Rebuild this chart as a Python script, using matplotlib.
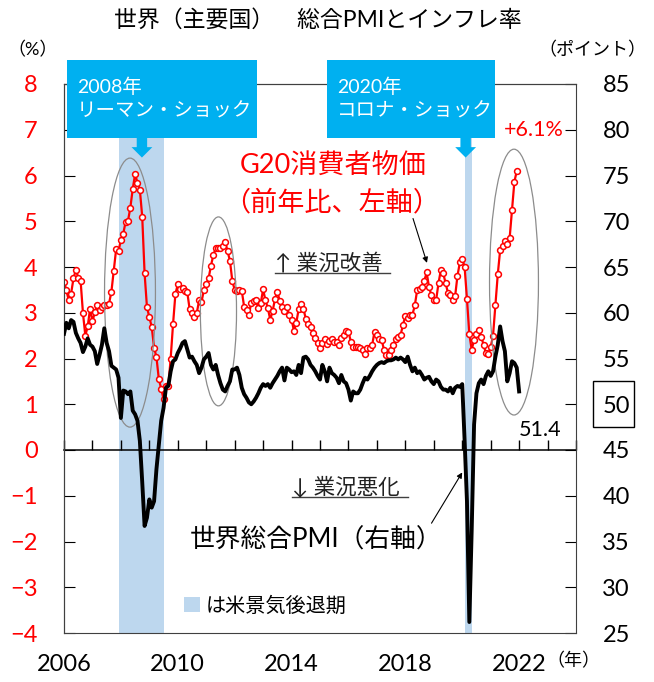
import numpy as np
import matplotlib.pyplot as plt
from matplotlib.patches import Rectangle, Ellipse
from matplotlib.transforms import blended_transform_factory

plt.rcParams['font.family'] = ['Lato', 'Noto Sans CJK JP']

# G20 consumer prices, % y/y, monthly from Jan 2006 (left axis)
cpi = [
    3.68, 3.49, 3.27, 3.42, 3.75, 3.94, 3.77, 3.70, 2.99, 2.50, 2.70, 3.09,  # 2006
    2.81, 3.01, 3.18, 3.07, 3.12, 3.16, 3.16, 3.20, 3.46, 3.92, 4.39, 4.34,  # 2007
    4.60, 4.73, 4.99, 5.01, 5.30, 5.71, 6.03, 5.84, 5.69, 5.10, 3.86, 3.12,  # 2008
    2.90, 2.69, 2.24, 2.03, 1.55, 1.34, 1.11, 1.39, 1.39, 2.00, 2.75, 3.41,  # 2009
    3.62, 3.52, 3.55, 3.48, 3.45, 3.08, 2.99, 2.90, 2.99, 3.27, 3.23, 3.50,  # 2010
    3.62, 3.75, 4.03, 4.26, 4.41, 4.42, 4.41, 4.46, 4.55, 4.34, 4.14, 3.70,  # 2011
    3.50, 3.48, 3.50, 3.48, 3.13, 3.05, 2.96, 3.22, 3.26, 3.27, 3.10, 3.21,  # 2012
    3.51, 3.27, 3.10, 2.85, 3.03, 3.30, 3.46, 3.26, 3.12, 3.03, 3.12, 2.96,  # 2013
    2.85, 2.61, 2.78, 3.08, 3.20, 3.09, 2.87, 2.76, 2.69, 2.56, 2.44, 2.34,  # 2014
    2.23, 2.34, 2.43, 2.32, 2.39, 2.43, 2.37, 2.37, 2.30, 2.45, 2.52, 2.61,  # 2015
    2.59, 2.37, 2.26, 2.25, 2.25, 2.23, 2.19, 2.10, 2.23, 2.23, 2.29, 2.59,  # 2016
    2.52, 2.43, 2.41, 2.19, 2.08, 2.07, 2.18, 2.30, 2.43, 2.46, 2.51, 2.74,  # 2017
    2.92, 2.88, 2.94, 2.96, 3.16, 3.50, 3.52, 3.57, 3.70, 3.88, 3.56, 3.38,  # 2018
    3.28, 3.28, 3.65, 3.94, 3.86, 3.65, 3.43, 3.38, 3.27, 3.36, 3.81, 4.10,  # 2019
    4.18, 4.01, 3.30, 2.53, 2.19, 2.41, 2.53, 2.63, 2.48, 2.30, 2.11, 2.10,  # 2020
    2.25, 2.50, 3.17, 3.84, 4.37, 4.46, 4.57, 4.50, 4.63, 5.24, 5.86, 6.10,  # 2021
]

# global composite PMI, monthly from Jan 2006 (right axis)
pmi = [
    57.7, 58.9, 58.3, 59.2, 59.0, 57.8, 57.2, 56.7, 55.7, 56.3, 57.2, 56.5,  # 2006
    56.3, 55.8, 54.4, 55.4, 56.5, 58.3, 56.7, 55.8, 54.2, 54.0, 53.8, 52.9,  # 2007
    48.5, 51.5, 51.4, 51.1, 51.4, 49.3, 48.9, 48.2, 46.0, 41.5, 36.7, 37.6,  # 2008
    39.6, 38.7, 39.4, 42.9, 45.5, 48.2, 49.6, 51.8, 52.0, 53.6, 54.7, 54.9,  # 2009
    55.6, 56.1, 56.7, 56.9, 56.0, 55.1, 55.2, 54.7, 54.3, 53.4, 54.0, 54.9,  # 2010
    55.2, 55.6, 54.3, 53.8, 54.3, 53.2, 52.3, 51.6, 51.4, 52.0, 52.5, 53.8,  # 2011
    53.8, 54.0, 53.2, 51.8, 51.1, 50.7, 50.2, 50.0, 50.3, 50.7, 51.2, 51.8,  # 2012
    52.2, 52.0, 52.2, 51.8, 52.3, 52.7, 53.1, 53.6, 54.0, 52.6, 54.0, 53.8,  # 2013
    53.5, 53.6, 53.2, 54.3, 53.4, 55.1, 55.2, 54.9, 54.3, 54.0, 53.6, 53.1,  # 2014
    52.7, 54.3, 53.6, 52.5, 54.0, 53.4, 53.2, 52.9, 52.3, 53.2, 52.5, 52.3,  # 2015
    51.6, 50.4, 51.4, 51.2, 51.2, 51.6, 52.3, 52.9, 52.7, 53.1, 53.6, 54.0,  # 2016
    54.3, 54.5, 54.6, 54.5, 54.7, 54.8, 54.8, 54.9, 55.1, 54.9, 55.1, 54.9,  # 2017
    54.6, 55.2, 54.3, 53.6, 54.0, 53.4, 53.6, 53.2, 52.7, 52.9, 53.0, 52.5,  # 2018
    52.2, 52.7, 52.5, 51.9, 51.6, 51.6, 51.4, 51.8, 51.2, 51.8, 52.0, 51.9,  # 2019
    52.2, 46.1, 39.4, 26.2, 36.3, 47.8, 51.2, 52.3, 52.7, 52.2, 53.1, 53.6,  # 2020
    53.1, 53.6, 55.2, 56.5, 58.5, 56.9, 55.8, 52.5, 53.4, 54.7, 54.5, 54.0,  # 2021
    51.4,                                                                    # 2022
]

start_year = 2006
# US recessions (NBER), decimal years
rec_start = [2007.917, 2020.083]
rec_end = [2009.5, 2020.333]

year_labels = [2006, 2010, 2014, 2018, 2022]
left_ticks = list(range(-4, 9))
right_ticks = list(range(25, 90, 5))

x_cpi = start_year + np.arange(len(cpi)) / 12
x_pmi = start_year + np.arange(len(pmi)) / 12

fig = plt.figure(figsize=(6.54, 6.82), dpi=100)
ax = fig.add_axes([64 / 654, 49 / 682, 512 / 654, 549 / 682])
ax2 = ax.twinx()

frame = '#404040'
cyan = '#00B0F0'
shade = '#BDD7EE'

for i in range(len(rec_start)):
    ax.axvspan(rec_start[i], rec_end[i], color=shade, lw=0, zorder=0,
               label='は米景気後退期' if i == 0 else None)

ax.plot(x_cpi, cpi, color='red', lw=1.6, marker='o', ms=4.2, mfc='white',
        mec='red', mew=1.1, zorder=3)
ax2.plot(x_pmi, pmi, color='black', lw=2.8, zorder=3)

ax.set_xlim(2006, 2024)
ax.set_ylim(-4, 8)
ax2.set_ylim(25, 85)
ax.set_yticks(left_ticks)
ax2.set_yticks(right_ticks)
ax.set_xticks(year_labels)
ax.set_xticks(range(2006, 2025), minor=True)

# x axis with year ticks runs along zero, labels sit at the bottom frame
ax.spines['bottom'].set_position(('data', 0))
ax.spines['bottom'].set_color('black')
ax.spines['bottom'].set_linewidth(1.1)
ax.tick_params(axis='x', which='both', direction='in', length=7, width=1,
               labelbottom=False)
ax2.xaxis.set_visible(True)
ax2.tick_params(axis='x', which='both', length=0, labelsize=17, pad=15)

ax.tick_params(axis='y', direction='in', length=8, labelsize=17,
               labelcolor='red', pad=19)
ax2.tick_params(axis='y', direction='in', length=8, labelsize=17, pad=19)
for s in ['top', 'left']:
    ax.spines[s].set_color(frame)
ax.spines['right'].set_visible(False)
for s in ['top', 'bottom', 'left', 'right']:
    ax2.spines[s].set_color(frame)

# box round the 50 label on the right axis
bt = blended_transform_factory(ax2.transAxes, ax2.transData)
ax2.add_patch(Rectangle((1.033, 47.5), 0.08, 5.0, transform=bt, fill=False,
                        ec='black', lw=1, clip_on=False))

# circles round the inflation peaks
for cx, cy, w, h in [(2008.32, 3.44, 1.79, 5.88), (2011.43, 3.03, 1.27, 4.13),
                     (2021.82, 3.67, 1.72, 5.81)]:
    ax.add_patch(Ellipse((cx, cy), w, h, fill=False, ec='#8c8c8c', lw=0.9,
                         zorder=4))

# callout boxes
for bx, bw, txt, ax_arrow in [(0.006, 0.371, '2008年\nリーマン・ショック', 2008.74),
                              (0.514, 0.328, '2020年\nコロナ・ショック', 2020.12)]:
    ax2.add_patch(Rectangle((bx, 0.902), bw, 0.142, transform=ax2.transAxes,
                            color=cyan, lw=0, clip_on=False, zorder=10))
    ax2.text(bx + 0.019, 0.973, txt, transform=ax2.transAxes, color='white',
             fontsize=14, ha='left', va='center', linespacing=1.45, zorder=11)
    ax2.annotate('', xy=(ax_arrow, 0.866), xytext=(ax_arrow, 0.904),
                 xycoords=('data', 'axes fraction'),
                 textcoords=('data', 'axes fraction'),
                 arrowprops=dict(arrowstyle='simple,head_length=0.5,head_width=1.0,tail_width=0.5',
                                 color=cyan, lw=0, mutation_scale=15,
                                 shrinkA=0, shrinkB=0), zorder=11)

fig.text(0.486, 0.971, '世界（主要国）　総合PMIとインフレ率', ha='center',
         va='center', fontsize=16.5)
fig.text(33 / 654, 1 - 50 / 682, '（%）', ha='center', va='center', fontsize=13)
fig.text(592 / 654, 1 - 50 / 682, '（ポイント）', ha='center', va='center',
         fontsize=13)
fig.text(573 / 654, 1 - 661 / 682, '（年）', ha='center', va='center',
         fontsize=13)

ax.text(2015.48, 6.21, 'G20消費者物価', color='red', fontsize=19.5,
        ha='center', va='center', zorder=6)
ax.text(2015.41, 5.42, '（前年比、左軸）', color='red', fontsize=19.5,
        ha='center', va='center', zorder=6)
ax.text(2022.51, 7.0, '+6.1%', color='red', fontsize=15.5, ha='center',
        va='center', zorder=6)
ax.text(2022.75, 0.44, '51.4', color='black', fontsize=15.5, ha='center',
        va='center', zorder=6)

ax.text(2013.41, 4.09, '↑ 業況改善', fontsize=15.5, ha='left', va='center',
        color='#222222', zorder=6)
ax.plot([2013.41, 2017.45], [3.87, 3.87], color='#404040', lw=1)
ax.text(2014.0, -0.8, '↓ 業況悪化', fontsize=15.5, ha='left', va='center',
        color='#222222', zorder=6)
ax.plot([2014.0, 2018.1], [-1.03, -1.03], color='#404040', lw=1)

ax.text(2010.43, -1.97, '世界総合PMI（右軸）', fontsize=18.5, ha='left',
        va='center', zorder=6)

ax.annotate('', xy=(2018.76, 4.09), xytext=(2018.27, 5.06),
            arrowprops=dict(arrowstyle='-|>', color='black', lw=0.8,
                            mutation_scale=8, shrinkA=0, shrinkB=0))
ax.annotate('', xy=(2020.0, -0.49), xytext=(2018.92, -1.6),
            arrowprops=dict(arrowstyle='-|>', color='black', lw=0.8,
                            mutation_scale=8, shrinkA=0, shrinkB=0))

ax.legend(loc='center left', bbox_to_anchor=(0.235, 0.051), frameon=False,
          fontsize=14.5, handlelength=0.8, handleheight=0.8,
          handletextpad=0.25, borderpad=0, borderaxespad=0)

fig.savefig('out.png', dpi=100)
